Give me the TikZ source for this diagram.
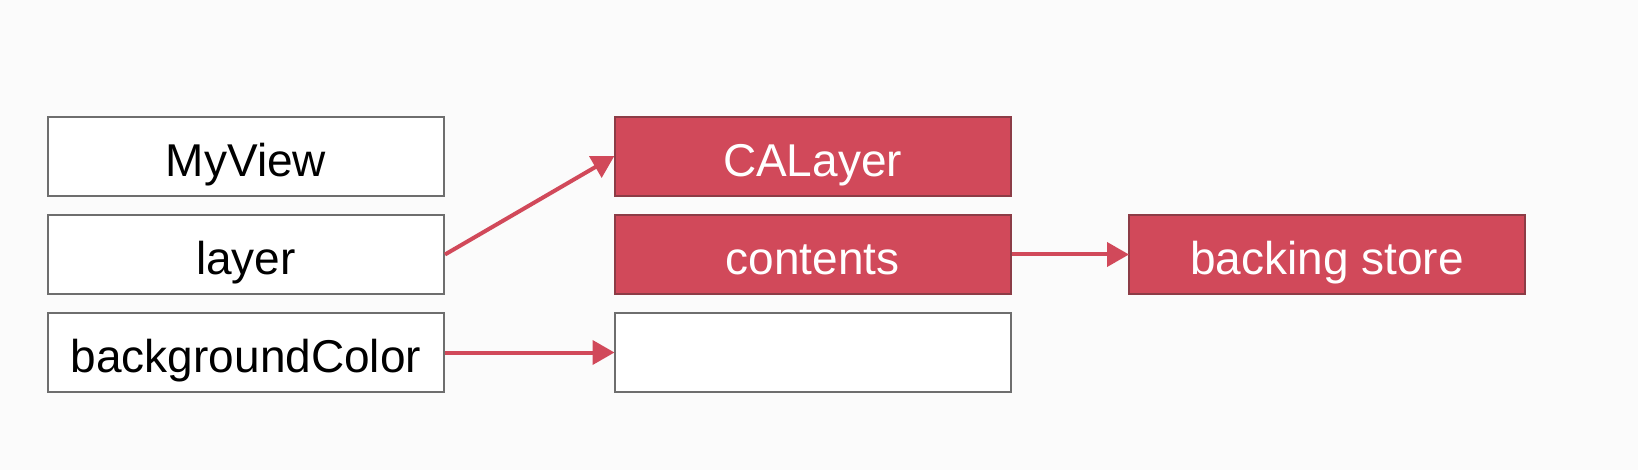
\documentclass[tikz,border=0pt]{standalone}
\usepackage{fontspec}
\setmainfont{Liberation Sans}
\usetikzlibrary{arrows.meta}
\definecolor{boxred}{RGB}{209,73,90}
\definecolor{boxline}{RGB}{110,110,110}
\definecolor{redline}{RGB}{140,60,70}
\tikzset{
  cell/.style={draw=boxline, line width=2pt, minimum width=396pt, minimum height=79pt, inner sep=0pt, text height=40pt, text depth=0pt, font=\fontsize{46}{50}\selectfont},
  whitecell/.style={cell, fill=white, text=black},
  redcell/.style={cell, fill=boxred, draw=redline, text=white},
  link/.style={draw=boxred, line width=4pt, -{Triangle[length=22pt,width=24pt]}, shorten >=-1pt}
}
\begin{document}
\begin{tikzpicture}[x=1pt,y=-1pt]
\fill[white!97!gray] (0,0) rectangle (1638,470);
\useasboundingbox (0,0) rectangle (1638,470);
\node[whitecell] (myview) at (246,156.5) {MyView};
\node[whitecell] (layer) at (246,254.5) {layer};
\node[whitecell] (bg) at (246,352.5) {backgroundColor};
\node[redcell] (calayer) at (812.5,156.5) {CALayer};
\node[redcell] (contents) at (812.5,254.5) {contents};
\node[whitecell] (empty) at (812.5,352.5) {};
\node[redcell] (store) at (1327,254.5) {backing store};
\draw[link] (layer.east) -- (calayer.west);
\draw[link] (bg.east) -- (empty.west);
\draw[link] (contents.east) -- (store.west);
\end{tikzpicture}
\end{document}
